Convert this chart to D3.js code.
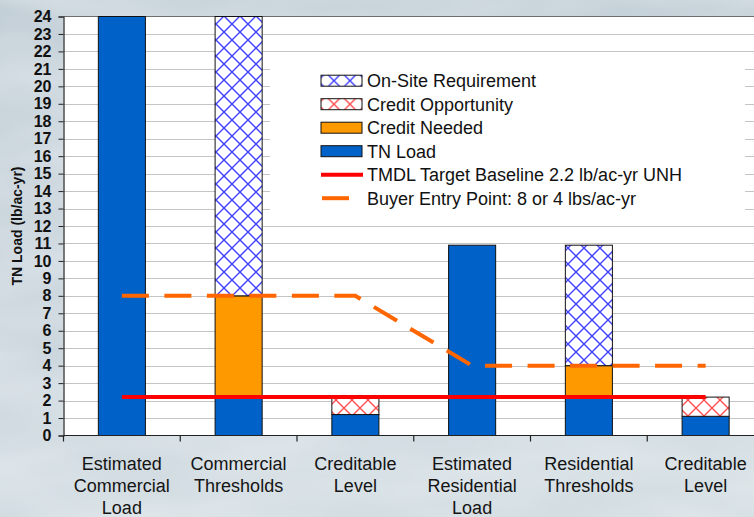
<!DOCTYPE html>
<html>
<head>
<meta charset="utf-8">
<script src="https://cdn.jsdelivr.net/npm/d3@7"></script>
<style>
  html, body { margin: 0; padding: 0; overflow: hidden; }
  svg { display: block; font-family: "Liberation Sans", Arial, sans-serif; }
</style>
</head>
<body>
<svg id="chart" width="754" height="517"></svg>
<script>
// Categories (multi-line axis labels)
const categories = [
  "Estimated\nCommercial\nLoad",
  "Commercial\nThresholds",
  "Creditable\nLevel",
  "Estimated\nResidential\nLoad",
  "Residential\nThresholds",
  "Creditable\nLevel"
];

// Stacked bar series (lb/ac-yr)
const tnLoad            = [24, 2.2, 1.2, 10.9, 2.2, 1.1];
const creditNeeded      = [0, 5.8, 0, 0, 1.8, 0];
const creditOpportunity = [0, 0, 1.0, 0, 0, 1.1];
const onSiteRequirement = [0, 16, 0, 0, 6.9, 0];

// Line series
const tmdlBaseline = [2.2, 2.2, 2.2, 2.2, 2.2, 2.2];
const buyerEntry   = [8, 8, 8, 4, 4, 4];

// Y axis ticks
const yTicks = d3.range(0, 25, 1);

const seriesNames = {
  tn: "TN Load",
  need: "Credit Needed",
  opp: "Credit Opportunity",
  onsite: "On-Site Requirement",
  tmdl: "TMDL Target Baseline 2.2 lb/ac-yr UNH",
  buyer: "Buyer Entry Point: 8 or 4 lbs/ac-yr"
};

const table = categories.map((c, i) => ({
  cat: c, idx: i,
  tn: tnLoad[i], need: creditNeeded[i], opp: creditOpportunity[i], onsite: onSiteRequirement[i]
}));

const svg = d3.select("#chart");
const W = 754, H = 517;
const plot = { left: 63.5, top: 16.5, right: 764, bottom: 435.5 };

const colors = {
  tn: "#0062c8",
  need: "#ff9900",
  oppHatch: "#ff5050",
  onsiteHatch: "#4040ff",
  tmdl: "#ff0000",
  buyer: "#ff6600",
  grid: "#c4c4c4"
};

const defs = svg.append("defs");

// Page background
const bg = defs.append("linearGradient").attr("id", "bgGrad")
  .attr("x1", 0).attr("y1", 0).attr("x2", 0.3).attr("y2", 1);
bg.append("stop").attr("offset", "0%").attr("stop-color", "#c2ced6");
bg.append("stop").attr("offset", "45%").attr("stop-color", "#c9d4db");
bg.append("stop").attr("offset", "100%").attr("stop-color", "#d2dce1");

const clouds = defs.append("filter").attr("id", "clouds")
  .attr("x", 0).attr("y", 0).attr("width", "100%").attr("height", "100%");
clouds.append("feTurbulence").attr("type", "fractalNoise")
  .attr("baseFrequency", "0.006 0.02").attr("numOctaves", 3).attr("seed", 7).attr("result", "noise");
clouds.append("feColorMatrix").attr("in", "noise").attr("type", "matrix")
  .attr("values", "0 0 0 0 0.93  0 0 0 0 0.96  0 0 0 0 0.98  0 0 0 0.55 -0.12");

// Cross-hatch patterns
function hatch(id, color) {
  const p = defs.append("pattern").attr("id", id)
    .attr("patternUnits", "userSpaceOnUse").attr("width", 16).attr("height", 16);
  p.append("rect").attr("width", 16).attr("height", 16).attr("fill", "#fff");
  p.append("path").attr("d", "M0,0L16,16M16,0L0,16M-2,14L2,18M14,-2L18,2M-2,2L2,-2M14,18L18,14")
    .attr("stroke", color).attr("stroke-width", 1.4).attr("fill", "none");
}
hatch("hatchBlue", colors.onsiteHatch);
hatch("hatchRed", colors.oppHatch);

svg.append("rect").attr("width", W).attr("height", H).attr("fill", "url(#bgGrad)");
svg.append("rect").attr("width", W).attr("height", H).attr("filter", "url(#clouds)");

// Scales
const y = d3.scaleLinear().domain([0, 24]).range([plot.bottom, plot.top]);
const xOuter = d3.scaleBand().domain(d3.range(categories.length))
  .range([plot.left, plot.right]).padding(0);
const x = d3.scaleBand().domain(d3.range(categories.length))
  .range([plot.left, plot.right]).paddingInner(0.597).paddingOuter(0.2985);
const cx = i => xOuter(i) + xOuter.bandwidth() / 2;

// Plot area
svg.append("rect")
  .attr("x", plot.left).attr("y", plot.top)
  .attr("width", plot.right - plot.left).attr("height", plot.bottom - plot.top)
  .attr("fill", "#fff");

// Gridlines
svg.append("g").selectAll("line").data(yTicks.filter(v => v > 0 && v < 24)).join("line")
  .attr("x1", plot.left).attr("x2", plot.right)
  .attr("y1", d => Math.round(y(d)) + 0.5).attr("y2", d => Math.round(y(d)) + 0.5)
  .attr("stroke", colors.grid).attr("stroke-width", 1);

// Top border of plot area
svg.append("line").attr("x1", plot.left).attr("x2", plot.right)
  .attr("y1", plot.top).attr("y2", plot.top)
  .attr("stroke", "#6e6e6e").attr("stroke-width", 1.2);

// Legend box background (sits over gridlines)
const legend = svg.append("g").attr("transform", "translate(270,60)");
legend.append("rect").attr("width", 475).attr("height", 158).attr("fill", "#fff");

// Stacked bars
const keys = ["tn", "need", "opp", "onsite"];
const fills = { tn: colors.tn, need: colors.need, opp: "url(#hatchRed)", onsite: "url(#hatchBlue)" };
const stacked = d3.stack().keys(keys)(table);

svg.append("g").selectAll("g").data(stacked).join("g")
  .attr("fill", d => fills[d.key])
  .selectAll("rect").data(d => d.filter(s => s[1] - s[0] > 0)).join("rect")
  .attr("x", d => x(d.data.idx))
  .attr("width", x.bandwidth())
  .attr("y", d => y(d[1]))
  .attr("height", d => y(d[0]) - y(d[1]))
  .attr("stroke", "#111").attr("stroke-width", 1);

// Line series
const line = d3.line().x((d, i) => cx(i)).y(d => y(d));
svg.append("path").datum(buyerEntry)
  .attr("d", line).attr("fill", "none")
  .attr("stroke", colors.buyer).attr("stroke-width", 4)
  .attr("stroke-dasharray", "27,15.5");
svg.append("path").datum(tmdlBaseline)
  .attr("d", line).attr("fill", "none")
  .attr("stroke", colors.tmdl).attr("stroke-width", 4);

// Y axis
const yAxis = svg.append("g").attr("transform", `translate(${plot.left},0)`)
  .call(d3.axisLeft(y).tickValues(yTicks).tickFormat(d3.format("d")).tickSize(5).tickPadding(7));
yAxis.select(".domain").attr("stroke", "#222").attr("stroke-width", 1.2);
yAxis.selectAll(".tick line").attr("stroke", "#222");
yAxis.selectAll(".tick text")
  .attr("font-size", 16).attr("font-weight", "bold").attr("fill", "#111")
  .attr("font-family", "'Liberation Sans', Arial, sans-serif");

// X axis
const xAxisG = svg.append("g");
xAxisG.append("line").attr("x1", plot.left).attr("x2", plot.right)
  .attr("y1", plot.bottom).attr("y2", plot.bottom)
  .attr("stroke", "#222").attr("stroke-width", 1.2);
xAxisG.selectAll("line.tick").data(d3.range(categories.length)).join("line")
  .attr("class", "tick")
  .attr("x1", d => xOuter(d)).attr("x2", d => xOuter(d))
  .attr("y1", plot.bottom).attr("y2", plot.bottom + 6)
  .attr("stroke", "#222").attr("stroke-width", 1.2);
xAxisG.selectAll("text").data(categories).join("text")
  .attr("x", (d, i) => cx(i))
  .attr("text-anchor", "middle")
  .attr("font-size", 18).attr("fill", "#141414")
  .each(function(d) {
    const t = d3.select(this);
    d.split("\n").forEach((ln, k) => {
      t.append("tspan").attr("x", t.attr("x")).attr("y", 470 + k * 22).text(ln);
    });
  });

// Y axis title
svg.append("text")
  .attr("transform", `translate(22,${(plot.top + plot.bottom) / 2}) rotate(-90)`)
  .attr("text-anchor", "middle")
  .attr("font-size", 14).attr("font-weight", "bold").attr("fill", "#111")
  .text("TN Load (lb/ac-yr)");

// Legend entries
const legendItems = [
  { key: "onsite", type: "box", fill: "url(#hatchBlue)" },
  { key: "opp", type: "box", fill: "url(#hatchRed)" },
  { key: "need", type: "box", fill: colors.need },
  { key: "tn", type: "box", fill: colors.tn },
  { key: "tmdl", type: "line" },
  { key: "buyer", type: "dash" }
];
const li = legend.selectAll("g.item").data(legendItems).join("g")
  .attr("class", "item")
  .attr("transform", (d, i) => `translate(0,${20.7 + i * 23.5})`);
li.filter(d => d.type === "box").append("rect")
  .attr("x", 51).attr("y", -5.5).attr("width", 41).attr("height", 11)
  .attr("fill", d => d.fill).attr("stroke", "#111").attr("stroke-width", 1);
li.filter(d => d.type === "line").append("line")
  .attr("x1", 51).attr("x2", 93).attr("y1", 0).attr("y2", 0)
  .attr("stroke", colors.tmdl).attr("stroke-width", 4);
li.filter(d => d.type === "dash").append("line")
  .attr("x1", 52).attr("x2", 79).attr("y1", 0).attr("y2", 0)
  .attr("stroke", colors.buyer).attr("stroke-width", 4);
li.append("text")
  .attr("x", 97).attr("y", 6.5)
  .attr("font-size", 18).attr("fill", "#111")
  .text(d => seriesNames[d.key]);
</script>
</body>
</html>
